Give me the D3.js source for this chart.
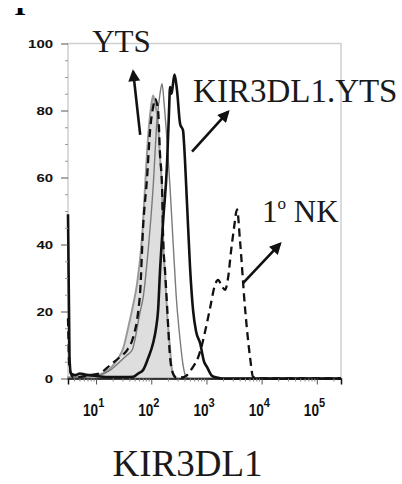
<!DOCTYPE html>
<html>
<head>
<meta charset="utf-8">
<script src="https://cdn.jsdelivr.net/npm/d3@7"></script>
<style>
  body { margin: 0; background: #fff; }
  svg { display: block; }
  .tick-lbl { font-family: "Liberation Sans", Arial, sans-serif; font-weight: bold; fill: #111; }
  .note { font-family: "Liberation Serif", "Times New Roman", serif; fill: #1a1a1a; }
</style>
</head>
<body>
<script>
// histogram traces: fluorescence intensity vs % of max
var greyFilledX = [3.1, 5.1, 7.8, 11.8, 18, 25, 31, 38, 47, 55, 68, 77, 87.5, 99, 108, 117, 133, 144, 157, 164, 178, 193, 219, 238, 270, 333, 274000];
var greyFilledY = [0.3, 0.5, 0.8, 1.2, 3, 6, 9, 15, 22, 28, 42, 57, 72, 81, 84.5, 82, 76, 66, 56, 42, 31, 20, 9, 2.5, 0.5, 0, 0];

var greyLineX = [3.1, 7.8, 11.8, 18, 27, 36.5, 45, 63, 71, 87.5, 108, 127, 144, 157, 171, 193, 219, 248, 282, 333, 377, 427, 505, 274000];
var greyLineY = [0.3, 0.5, 1, 2.5, 5, 7, 8.5, 20, 24, 38, 57, 77, 85, 88, 82, 71, 57, 41, 25, 11.5, 4, 0.5, 0, 0];

var dashedX = [3.1, 3.3, 3.8, 5.1, 7.8, 11.8, 18, 27, 36.5, 47, 58, 63, 71, 84, 95, 108, 117, 133, 144, 157, 164, 178, 193, 219, 248, 282, 361, 445, 505, 572, 676, 766, 944, 1162, 1432, 1623, 1918, 2171, 2461, 2790, 3162, 3583, 4061, 5000, 6160, 6985, 8615, 274000];
var dashedY = [18, 3, 0.5, 0.5, 1, 1.6, 4, 6.4, 8.5, 12.3, 20, 26, 45, 60, 74, 81, 83.5, 80, 67, 57, 42, 32, 22, 6.4, 1.5, 0.3, 0.3, 1, 2.2, 3.5, 5.5, 8, 14, 21, 28, 29.4, 27.5, 26.5, 30, 38, 45, 50.5, 41, 21, 6.4, 0.5, 0, 0];

var blackX = [3.1, 3.3, 3.52, 4.2, 5.1, 6.3, 7.8, 11.8, 18, 33.5, 47, 58, 71, 87.5, 108, 122, 133, 144, 164, 193, 210, 219, 233, 248, 264, 293, 333, 377, 393, 445, 505, 572, 649, 766, 906, 1026, 1262, 1557, 1917, 274000];
var blackY = [49, 6, 1.5, 1, 1.5, 1.2, 1, 0.6, 0.4, 0.4, 0.5, 1.5, 2.5, 6, 10.6, 15, 20.4, 32, 47, 64, 80, 87, 85, 88, 90.7, 86, 76, 74, 70, 52, 33, 20.4, 14, 10.6, 5, 3.4, 0.8, 0.3, 0, 0];

var yTicks = [0, 20, 40, 60, 80, 100];
var xDecades = [10, 100, 1000, 10000, 100000];
var xExponents = ["1", "2", "3", "4", "5"];

// annotations (data coordinates)
var arrowFrom = [[63, 72.7], [548, 67.7], [4600, 28.5]];
var arrowTo = [[47, 91.6], [2460, 79.6], [21500, 40.2]];
var noteText = ["YTS", "KIR3DL1.YTS"];
var notePos = [[8.5, 97.5], [572, 82.6]];

var svgWidth = 402, svgHeight = 484;
var plotL = 68, plotR = 341, plotT = 43.5, plotB = 378.5;

var svg = d3.select("body").append("svg")
    .attr("width", svgWidth)
    .attr("height", svgHeight);

var xScale = d3.scaleLog().domain([3.1, 274000]).range([plotL, plotR]);
var yScale = d3.scaleLinear().domain([0, 100]).range([plotB, plotT]);

function zip(xs, ys) { return xs.map(function(v, i) { return [v, ys[i]]; }); }

// cut-off panel letter at the top
svg.append("clipPath").attr("id", "lblclip")
  .append("rect").attr("x", 0).attr("y", 8).attr("width", 60).attr("height", 10);
svg.append("text")
    .attr("clip-path", "url(#lblclip)")
    .attr("x", 20).attr("y", 14.5)
    .attr("text-anchor", "middle")
    .style("font-family", "Liberation Serif, serif")
    .style("font-weight", "bold")
    .style("font-size", "30px")
    .text("I");

// plot frame
svg.append("rect")
    .attr("x", plotL).attr("y", plotT)
    .attr("width", plotR - plotL).attr("height", plotB - plotT)
    .attr("fill", "none")
    .attr("stroke", "#cfcfcf")
    .attr("stroke-width", 1.5);

svg.append("clipPath").attr("id", "plotclip")
  .append("rect").attr("x", plotL - 2).attr("y", plotT - 10).attr("width", plotR - plotL + 3).attr("height", plotB - plotT + 12);

var plot = svg.append("g").attr("clip-path", "url(#plotclip)");

var line = d3.line()
    .x(function(d) { return xScale(d[0]); })
    .y(function(d) { return yScale(d[1]); })
    .curve(d3.curveMonotoneX);

var area = d3.area()
    .x(function(d) { return xScale(d[0]); })
    .y0(yScale(0))
    .y1(function(d) { return yScale(d[1]); })
    .curve(d3.curveMonotoneX);

plot.append("path")
    .datum(zip(greyFilledX, greyFilledY))
    .attr("d", area)
    .attr("fill", "#dedede")
    .attr("stroke", "#9a9a9a")
    .attr("stroke-width", 2);

plot.append("path")
    .datum(zip(greyLineX, greyLineY))
    .attr("d", line)
    .attr("fill", "none")
    .attr("stroke", "#7a7a7a")
    .attr("stroke-width", 1.4);

plot.append("path")
    .datum(zip(dashedX, dashedY))
    .attr("d", line)
    .attr("fill", "none")
    .attr("stroke", "#111")
    .attr("stroke-width", 2.3)
    .attr("stroke-dasharray", "8,5");

plot.append("path")
    .datum(zip(blackX, blackY))
    .attr("d", line)
    .attr("fill", "none")
    .attr("stroke", "#111")
    .attr("stroke-width", 2.6);

// y axis
var yAxis = svg.append("g")
    .attr("transform", "translate(" + plotL + ",0)")
    .call(d3.axisLeft(yScale).tickValues(yTicks).tickSize(7).tickPadding(4));
yAxis.select(".domain").remove();
yAxis.selectAll(".tick line").attr("stroke", "#555");
yAxis.selectAll(".tick text")
    .attr("class", "tick-lbl")
    .attr("x", -15 / 1.3)
    .attr("dy", "0.36em")
    .attr("transform", "scale(1.3,1)")
    .style("font-size", "11.5px");

var yMinor = d3.range(5, 100, 5).filter(function(v) { return v % 20 !== 0; });
var yMinorAxis = svg.append("g")
    .attr("transform", "translate(" + plotL + ",0)")
    .call(d3.axisLeft(yScale).tickValues(yMinor).tickSize(3).tickFormat(""));
yMinorAxis.select(".domain").remove();
yMinorAxis.selectAll(".tick line").attr("stroke", "#999");

// x axis
var xAxis = svg.append("g")
    .attr("transform", "translate(0," + plotB + ")")
    .call(d3.axisBottom(xScale).tickValues(xDecades).tickSize(6).tickFormat(""));
xAxis.select(".domain").attr("stroke", "#111").attr("stroke-width", 1.5);
xAxis.selectAll(".tick line").attr("stroke", "#555");

var xMinor = [];
[1, 10, 100, 1000, 10000, 100000].forEach(function(dec) {
  d3.range(2, 10).forEach(function(m) {
    var v = dec * m;
    if (v > 3.1 && v < 274000) xMinor.push(v);
  });
});
var xMinorAxis = svg.append("g")
    .attr("transform", "translate(0," + plotB + ")")
    .call(d3.axisBottom(xScale).tickValues(xMinor).tickSize(3).tickFormat(""));
xMinorAxis.select(".domain").remove();
xMinorAxis.selectAll(".tick line").attr("stroke", "#888");

var sx = 0.85;
var xl = svg.selectAll(".xlbl")
    .data(xDecades)
  .enter().append("text")
    .attr("class", "tick-lbl xlbl")
    .attr("transform", "scale(" + sx + ",1)")
    .attr("x", function(d) { return (xScale(d) - 13) / sx; })
    .attr("y", 416.5)
    .style("font-size", "16px");
xl.append("tspan").text("10");
xl.append("tspan")
    .attr("dy", -9)
    .style("font-size", "13px")
    .text(function(d, i) { return xExponents[i]; });

// axis title
svg.append("text")
    .attr("class", "note")
    .attr("x", 187.5).attr("y", 476)
    .attr("text-anchor", "middle")
    .style("font-size", "37px")
    .text("KIR3DL1");

// arrows
var defs = svg.append("defs");
defs.append("marker")
    .attr("id", "head")
    .attr("viewBox", "0 0 10 10")
    .attr("refX", 8).attr("refY", 5)
    .attr("markerWidth", 5.2).attr("markerHeight", 4.6)
    .attr("orient", "auto")
  .append("path")
    .attr("d", "M0,0L10,5L0,10z")
    .attr("fill", "#111");

svg.selectAll(".arrow")
    .data(arrowFrom)
  .enter().append("line")
    .attr("class", "arrow")
    .attr("x1", function(d) { return xScale(d[0]); })
    .attr("y1", function(d) { return yScale(d[1]); })
    .attr("x2", function(d, i) { return xScale(arrowTo[i][0]); })
    .attr("y2", function(d, i) { return yScale(arrowTo[i][1]); })
    .attr("stroke", "#111")
    .attr("stroke-width", 2.6)
    .attr("marker-end", "url(#head)");

// labels
svg.selectAll(".lbl")
    .data(noteText)
  .enter().append("text")
    .attr("class", "note lbl")
    .attr("x", function(d, i) { return xScale(notePos[i][0]); })
    .attr("y", function(d, i) { return yScale(notePos[i][1]); })
    .style("font-size", function(d, i) { return i === 0 ? "31px" : "33px"; })
    .text(function(d) { return d; });

var nk = svg.append("text")
    .attr("class", "note")
    .attr("x", xScale(10200))
    .attr("y", yScale(46.7))
    .style("font-size", "31px");
nk.append("tspan").text("1");
nk.append("tspan").attr("dy", -13).style("font-size", "17px").text("o");
nk.append("tspan").attr("dy", 13).text(" NK");
</script>
</body>
</html>
